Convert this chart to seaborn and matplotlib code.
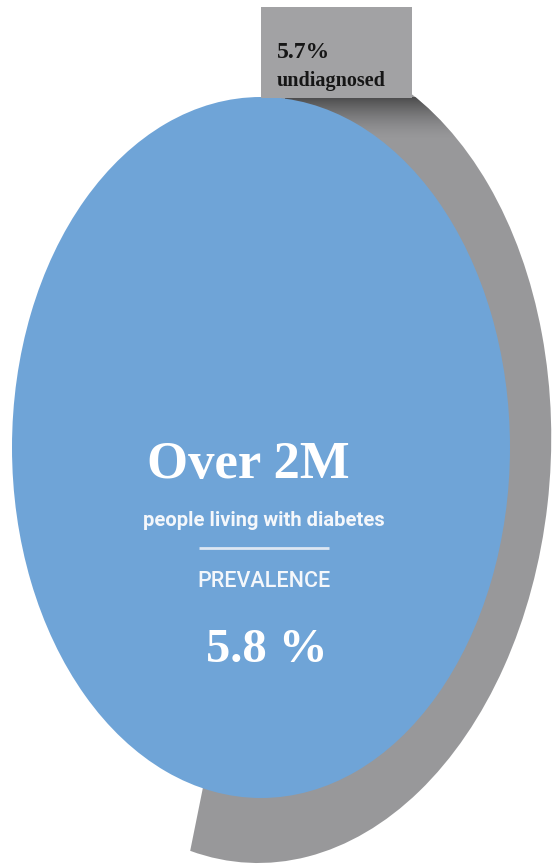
import numpy as np
import matplotlib.pyplot as plt
import seaborn as sns
from matplotlib.patches import Rectangle
from matplotlib.transforms import Affine2D

# values shown on the graphic
people_count = "Over 2M"
people_caption = "people living with diabetes"
prevalence_label = "PREVALENCE"
prevalence_pct = 5.8
undiagnosed_pct = 5.7
undiagnosed_label = "undiagnosed"

# visible share of the grey back ring, rest is hidden
ring_shares = [0.539, 0.461]

BLUE = "#6fa4d7"
GRAY = "#98989a"
BOX_GRAY = "#a2a2a4"
SERIF = ["Liberation Serif", "DejaVu Serif"]
SANS = ["Roboto", "Liberation Sans", "DejaVu Sans"]

W, H = 552, 866

sns.set_theme(style="white")
plt.rcParams["font.family"] = SERIF

fig = plt.figure(figsize=(W / 100, H / 100), dpi=100)


def px_axes(left, top, right, bottom):
	# axes placed by pixel box, top-left origin
	return fig.add_axes([left / W, (H - bottom) / H, (right - left) / W, (bottom - top) / H])


def flatten(ax):
	ax.set_aspect("auto")
	ax.set_xlim(-1, 1)
	ax.set_ylim(-1, 1)
	ax.axis("off")


# grey ring behind: unit pie mapped onto a slightly sheared ellipse (pixel space, y up)
ax_ring = fig.add_axes([0, 0, 1, 1])
wedges, _ = ax_ring.pie(ring_shares, colors=[GRAY, "none"], startangle=90,
	counterclock=False, radius=1, wedgeprops={"linewidth": 0})
ax_ring.set_aspect("auto")
ax_ring.set_xlim(0, W)
ax_ring.set_ylim(0, H)
ax_ring.axis("off")

ring_cx, ring_cy, ring_a, ring_b, ring_k = 270, 455, 281, 408, 12
to_ring = Affine2D(np.array([[ring_a, ring_k, ring_cx],
	[0, ring_b, H - ring_cy],
	[0, 0, 1]], dtype=float))
for w in wedges:
	w.set_transform(to_ring + ax_ring.transData)

# drop shadow under the label box
n = 60
fade = (np.linspace(1, 0, n) ** 1.6)[:, None] * np.ones((1, 80))
shadow = np.zeros((n, 80, 4))
shadow[..., 0:3] = 0.22
shadow[..., 3] = 0.8 * fade
im = ax_ring.imshow(shadow, extent=(285, 480, H - 140, H - 97), aspect="auto",
	origin="upper", interpolation="bilinear", zorder=3)
im.set_clip_path(wedges[0])
ax_ring.set_xlim(0, W)
ax_ring.set_ylim(0, H)

# blue disc
ax_disc = px_axes(12, 97, 510, 798)
ax_disc.pie([1], colors=[BLUE], radius=1, wedgeprops={"linewidth": 0})
flatten(ax_disc)

# overlay for the label box and texts
ax = fig.add_axes([0, 0, 1, 1])
ax.set_xlim(0, W)
ax.set_ylim(H, 0)
ax.axis("off")

ax.add_patch(Rectangle((261, 7), 151, 91, color=BOX_GRAY, lw=0))
ax.text(277, 58, "{}%".format(undiagnosed_pct), ha="left", va="baseline",
	fontsize=17, fontweight="bold", color="#161616", family=SERIF)
ax.text(277, 86, undiagnosed_label, ha="left", va="baseline",
	fontsize=14.5, fontweight="bold", color="#161616", family=SERIF)

ax.text(248, 478, people_count, ha="center", va="baseline",
	fontsize=38, fontweight="bold", color="white", family=SERIF)
ax.text(264, 526, people_caption, ha="center", va="baseline",
	fontsize=14.5, fontweight="semibold", color="#f4f7fb", family=SANS)
ax.plot([199, 329], [548, 548], color="#dde7f3", lw=2, solid_capstyle="butt")
ax.text(264, 587, prevalence_label, ha="center", va="baseline",
	fontsize=15.5, fontweight="medium", color="#f4f7fb", family=SANS)
ax.text(267, 662, "{} %".format(prevalence_pct), ha="center", va="baseline",
	fontsize=35, fontweight="bold", color="white", family=SERIF)

fig.savefig("out.png", dpi=100)
